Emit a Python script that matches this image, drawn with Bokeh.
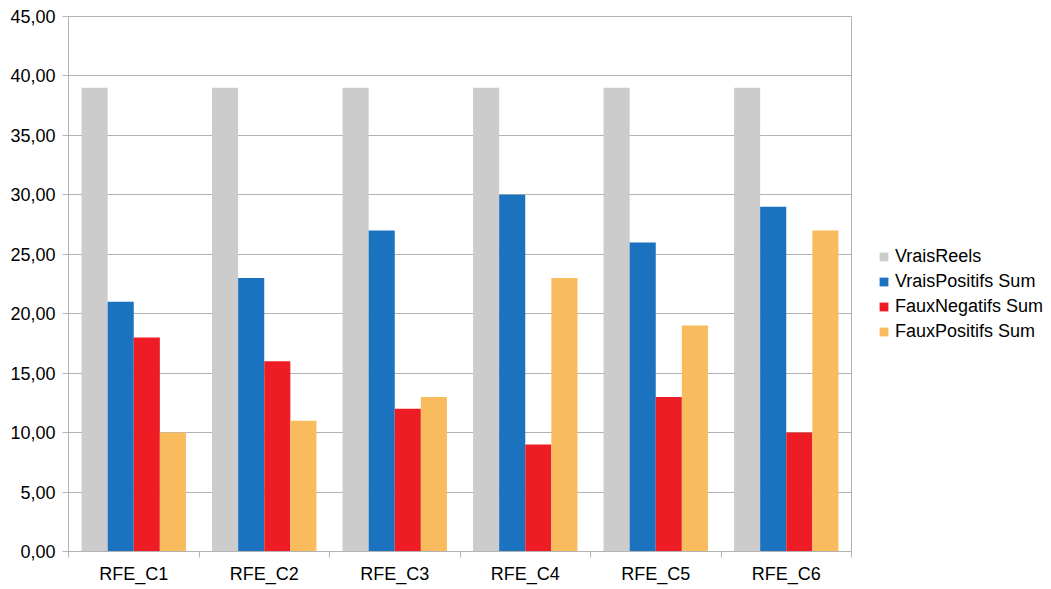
from bokeh.plotting import figure
from bokeh.models import FixedTicker, Legend, LegendItem, Range1d, ColumnDataSource
from bokeh.embed import file_html
from bokeh.resources import INLINE
import numpy as np

categories = ["RFE_C1", "RFE_C2", "RFE_C3", "RFE_C4", "RFE_C5", "RFE_C6"]
vrais_reels = [39, 39, 39, 39, 39, 39]
vrais_positifs = [21, 23, 27, 30, 26, 29]
faux_negatifs = [18, 16, 12, 9, 13, 10]
faux_positifs = [10, 11, 13, 23, 19, 27]
series_names = ["VraisReels", "VraisPositifs Sum", "FauxNegatifs Sum", "FauxPositifs Sum"]
colors = ["#cccccc", "#1b72be", "#ee1c25", "#f8bc5e"]
y_ticks = [0, 5, 10, 15, 20, 25, 30, 35, 40, 45]

FONT = "Liberation Sans"
GRID = "#b3b3b3"

p = figure(frame_width=783, frame_height=535, output_backend="svg", toolbar_location=None,
           x_range=Range1d(0, len(categories)), y_range=Range1d(0, 45),
           min_border_left=68, min_border_right=10, min_border_top=16, min_border_bottom=30)

centers = np.arange(len(categories)) + 0.5
offsets = [-0.3, -0.1, 0.1, 0.3]
data = [vrais_reels, vrais_positifs, faux_negatifs, faux_positifs]
items = []
for name, vals, off, col in zip(series_names, data, offsets, colors):
    src = ColumnDataSource(dict(x=centers + off, top=vals))
    r = p.vbar(x="x", top="top", width=0.2, source=src, fill_color=col, line_color=None)
    items.append(LegendItem(label=name, renderers=[r]))

p.outline_line_color = GRID
p.background_fill_color = "white"
p.border_fill_color = "white"

# x axis
p.xaxis.ticker = FixedTicker(ticks=list(centers), minor_ticks=list(range(len(categories) + 1)))
p.xaxis.major_label_overrides = {float(c): cat for c, cat in zip(centers, categories)}
p.xaxis.major_tick_out = 0
p.xaxis.major_tick_in = 0
p.xaxis.minor_tick_out = 6
p.xaxis.minor_tick_in = 0
p.xaxis.minor_tick_line_color = GRID
p.xaxis.axis_line_color = GRID
p.xaxis.major_label_standoff = 6
p.xaxis.major_label_text_font = FONT
p.xaxis.major_label_text_font_size = "18px"
p.xaxis.major_label_text_color = "#000000"
p.xgrid.grid_line_color = None

# y axis
p.yaxis.ticker = FixedTicker(ticks=y_ticks, minor_ticks=[])
p.yaxis.major_label_overrides = {t: f"{t:.2f}".replace(".", ",") for t in y_ticks}
p.yaxis.major_tick_out = 6
p.yaxis.major_tick_in = 0
p.yaxis.major_tick_line_color = GRID
p.yaxis.axis_line_color = GRID
p.yaxis.major_label_standoff = 7
p.yaxis.major_label_text_font = FONT
p.yaxis.major_label_text_font_size = "18px"
p.yaxis.major_label_text_color = "#000000"
p.ygrid.grid_line_color = GRID
p.ygrid.ticker = FixedTicker(ticks=y_ticks)

legend = Legend(items=items, location=(27, 209), orientation="vertical",
                label_text_font=FONT, label_text_font_size="18px", label_text_color="#000000",
                glyph_width=11, glyph_height=11, label_standoff=6, label_height=20,
                spacing=4, padding=0, margin=0, border_line_color=None,
                background_fill_alpha=0)
p.add_layout(legend, "right")

open("out.html", "w").write(file_html(p, INLINE))
